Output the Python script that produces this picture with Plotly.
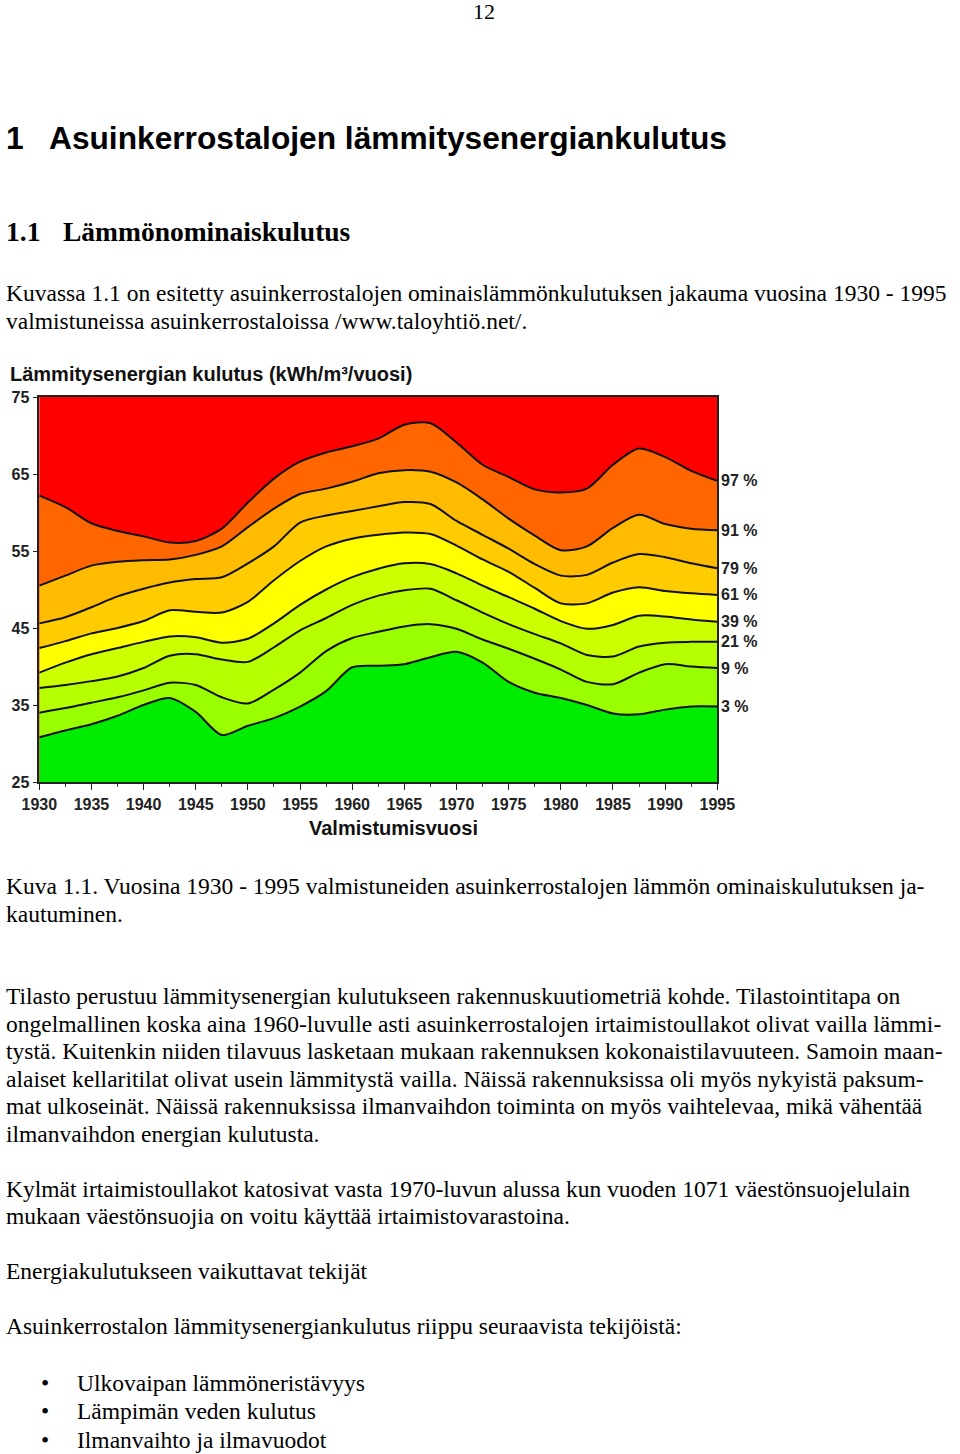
import plotly.graph_objects as go

# ---------------- chart data ----------------
years = [1930, 1932.5, 1935, 1937.5, 1940, 1942.5, 1945, 1947.5, 1950, 1952.5,
         1955, 1957.5, 1960, 1962.5, 1965, 1967.5, 1970, 1972.5, 1975, 1977.5,
         1980, 1982.5, 1985, 1987.5, 1990, 1992.5, 1995]

p3 = [30.8, 31.7, 32.5, 33.6, 35.0, 35.9, 34.1, 31.1, 32.3, 33.3,
      34.8, 36.8, 39.9, 40.1, 40.3, 41.2, 41.9, 40.5, 38.0, 36.6,
      35.9, 35.0, 33.9, 33.8, 34.4, 34.8, 34.8]
p9 = [34.0, 34.6, 35.3, 36.0, 36.9, 37.9, 37.6, 36.0, 35.2, 37.0,
      39.2, 42.0, 43.7, 44.5, 45.2, 45.5, 44.9, 43.5, 42.3, 41.0,
      39.6, 38.0, 37.7, 39.2, 40.3, 40.0, 39.8]
p21 = [37.2, 37.6, 38.1, 38.7, 39.8, 41.4, 41.6, 40.9, 40.6, 42.5,
       44.7, 46.3, 48.0, 49.2, 49.9, 50.1, 48.6, 47.0, 45.5, 44.2,
       43.0, 41.5, 41.3, 42.6, 43.1, 43.2, 43.2]
p39 = [39.2, 40.5, 41.6, 42.4, 43.2, 43.9, 43.8, 43.1, 43.6, 45.6,
       48.0, 50.0, 51.6, 52.7, 53.4, 53.3, 52.1, 50.5, 49.0, 47.5,
       45.9, 44.9, 45.4, 46.6, 46.5, 46.1, 45.8]
p61 = [42.4, 43.3, 44.3, 45.0, 45.9, 47.3, 47.1, 47.0, 48.4, 51.2,
       53.7, 55.6, 56.6, 57.1, 57.4, 57.2, 55.7, 53.9, 52.3, 50.2,
       48.2, 48.2, 49.6, 50.3, 49.8, 49.5, 49.3]
p79 = [45.6, 46.4, 47.7, 49.1, 50.1, 50.9, 51.35, 51.6, 53.4, 55.6,
       58.7, 59.6, 60.2, 60.8, 61.35, 61.1, 58.9, 57.1, 55.3, 53.3,
       51.8, 51.9, 53.5, 54.6, 54.2, 53.4, 52.75]
p91 = [50.5, 51.8, 53.1, 53.6, 53.8, 53.9, 54.5, 55.6, 58.1, 60.5,
       62.4, 63.1, 64.0, 65.1, 65.5, 65.3, 63.9, 61.7, 59.2, 57.0,
       55.1, 55.6, 58.0, 59.7, 58.5, 57.9, 57.7]
p97 = [62.2, 60.7, 58.6, 57.6, 56.9, 56.1, 56.3, 57.9, 61.3, 64.4,
       66.6, 67.8, 68.6, 69.6, 71.4, 71.6, 69.1, 66.2, 64.6, 63.0,
       62.6, 63.1, 66.2, 68.3, 67.2, 65.4, 64.1]

percent_labels = ["3 %", "9 %", "21 %", "39 %", "61 %", "79 %", "91 %", "97 %"]
series = [p3, p9, p21, p39, p61, p79, p91, p97]
band_colors = ["#00ec00", "#99ff00", "#b5ff00", "#ccff00", "#ffff00",
               "#ffcc00", "#ffbb00", "#ff6600"]
top_color = "#ff0000"

x_ticks = [1930, 1935, 1940, 1945, 1950, 1955, 1960, 1965, 1970, 1975, 1980, 1985, 1990, 1995]
y_ticks = [25, 35, 45, 55, 65, 75]

W, H = 960, 1454
px_left, px_right, py_top, py_bottom = 39.3, 717.3, 397, 782

fig = go.Figure()
for i, (vals, col) in enumerate(zip(series, band_colors)):
    fig.add_trace(go.Scatter(
        x=years, y=vals, mode="lines",
        line=dict(color="#111111", width=2, shape="spline", smoothing=0.8),
        fill="tozeroy" if i == 0 else "tonexty",
        fillcolor=col, hoverinfo="skip", showlegend=False))

for vals, lab in zip(series, percent_labels):
    fig.add_annotation(x=years[-1], y=vals[-1], xref="x", yref="y",
                       text="<b>%s</b>" % lab, showarrow=False,
                       xanchor="left", yanchor="middle", xshift=2,
                       font=dict(family="Liberation Sans", size=16, color="#222"))

axis_font = dict(family="Liberation Sans", size=16, color="#222")
fig.update_layout(
    width=W, height=H, margin=dict(l=0, r=0, t=0, b=0, pad=0),
    paper_bgcolor="white", plot_bgcolor=top_color,
    xaxis=dict(domain=[px_left / W, px_right / W], range=[1930, 1995],
               automargin=False,
               tickvals=x_ticks, ticktext=["<b>%d</b>" % v for v in x_ticks],
               ticks="outside", ticklen=6, tickwidth=1.2, tickcolor="#222",
               showline=True, linecolor="#222", linewidth=1.5, mirror=True,
               showgrid=False, zeroline=False, tickfont=axis_font,
               ticklabelstandoff=1,
               minor=dict(dtick=2.5, tick0=1930, ticks="outside", ticklen=3,
                          tickcolor="#444", showgrid=False)),
    yaxis=dict(domain=[1 - py_bottom / H, 1 - py_top / H], range=[25, 75],
               automargin=False,
               tickvals=y_ticks, ticktext=["<b>%d</b>" % v for v in y_ticks],
               ticks="outside", ticklen=5, tickwidth=1.2, tickcolor="#222",
               showline=True, linecolor="#222", linewidth=1.5, mirror=True,
               showgrid=False, zeroline=False, tickfont=axis_font),
)

def txt(x, y, s, size=23.5, family="Liberation Serif", bold=False, anchor="left", color="#000"):
    fig.add_annotation(x=x / W, y=1 - y / H, xref="paper", yref="paper",
                       text=("<b>%s</b>" % s) if bold else s, showarrow=False,
                       xanchor=anchor, yanchor="middle",
                       font=dict(family=family, size=size, color=color))

# chart title and axis title
txt(8, 374, "Lämmitysenergian kulutus (kWh/m³/vuosi)", size=20, family="Liberation Sans", bold=True, color="#111")
txt(393, 828, "Valmistumisvuosi", size=20, family="Liberation Sans", bold=True, anchor="center", color="#111")

# page text
txt(484, 12, "12", size=22, anchor="center")
txt(4, 138, "1", size=31.7, family="Liberation Sans", bold=True)
txt(47, 138, "Asuinkerrostalojen lämmitysenergiankulutus", size=31.7, family="Liberation Sans", bold=True)
txt(4, 231, "1.1", size=27.5, bold=True)
txt(61, 231, "Lämmönominaiskulutus", size=27.5, bold=True)

body = [
    (293, "Kuvassa 1.1 on esitetty asuinkerrostalojen ominaislämmönkulutuksen jakauma vuosina 1930 - 1995"),
    (321, "valmistuneissa asuinkerrostaloissa /www.taloyhtiö.net/."),
    (886, "Kuva 1.1. Vuosina 1930 - 1995 valmistuneiden asuinkerrostalojen lämmön ominaiskulutuksen ja-"),
    (914, "kautuminen."),
    (996, "Tilasto perustuu lämmitysenergian kulutukseen rakennuskuutiometriä kohde. Tilastointitapa on"),
    (1024, "ongelmallinen koska aina 1960-luvulle asti asuinkerrostalojen irtaimistoullakot olivat vailla lämmi-"),
    (1051, "tystä. Kuitenkin niiden tilavuus lasketaan mukaan rakennuksen kokonaistilavuuteen. Samoin maan-"),
    (1079, "alaiset kellaritilat olivat usein lämmitystä vailla. Näissä rakennuksissa oli myös nykyistä paksum-"),
    (1106, "mat ulkoseinät. Näissä rakennuksissa ilmanvaihdon toiminta on myös vaihtelevaa, mikä vähentää"),
    (1134, "ilmanvaihdon energian kulutusta."),
    (1189, "Kylmät irtaimistoullakot katosivat vasta 1970-luvun alussa kun vuoden 1071 väestönsuojelulain"),
    (1216, "mukaan väestönsuojia on voitu käyttää irtaimistovarastoina."),
    (1271, "Energiakulutukseen vaikuttavat tekijät"),
    (1326, "Asuinkerrostalon lämmitysenergiankulutus riippu seuraavista tekijöistä:"),
]
for y, s in body:
    txt(4, y, s)

bullets = [(1383, "Ulkovaipan lämmöneristävyys"), (1411, "Lämpimän veden kulutus"),
           (1440, "Ilmanvaihto ja ilmavuodot")]
for y, s in bullets:
    txt(45, y, "•", anchor="center")
    txt(75, y, s)

fig.write_html("out.html")
